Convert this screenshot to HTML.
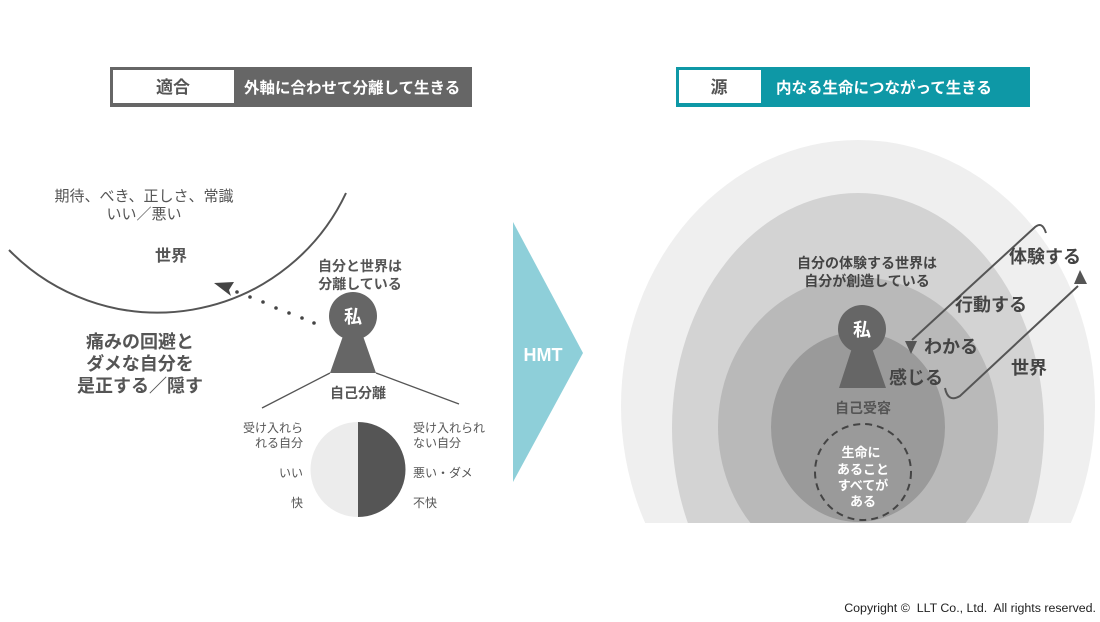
<!DOCTYPE html>
<html><head><meta charset="utf-8"><style>
html,body{margin:0;padding:0;background:#fff;width:1100px;height:622px;overflow:hidden}
svg{display:block;overflow:hidden}
text{font-family:"Liberation Sans","Noto Sans CJK JP",sans-serif}
</style></head><body>
<svg width="1100" height="622" viewBox="0 0 1100 622" xmlns="http://www.w3.org/2000/svg">
<defs><clipPath id="cl"><rect x="600" y="100" width="500" height="423"/></clipPath></defs>
<!-- left header -->
<rect x="110" y="67" width="362" height="40" fill="#666"/>
<rect x="113" y="70" width="121" height="33" fill="#fff"/>
<text x="173" y="93" font-size="17" font-weight="bold" fill="#555" text-anchor="middle">適合</text>
<text x="244" y="93" font-size="15.5" font-weight="bold" fill="#fff">外軸に合わせて分離して生きる</text>
<!-- right header -->
<rect x="676" y="67" width="354" height="40" fill="#0e98a6"/>
<rect x="679" y="70" width="82" height="33" fill="#fff"/>
<text x="719" y="93" font-size="17" font-weight="bold" fill="#555" text-anchor="middle">源</text>
<text x="776" y="93" font-size="15.5" font-weight="bold" fill="#fff">内なる生命につながって生きる</text>
<!-- left world arc -->
<path d="M9,250 A208 208 0 0 0 346 193" fill="none" stroke="#555" stroke-width="2"/>
<text x="144" y="201" font-size="15" fill="#555" text-anchor="middle">期待、べき、正しさ、常識</text>
<text x="144" y="219" font-size="15" fill="#555" text-anchor="middle">いい／悪い</text>
<text x="171" y="261" font-size="16" font-weight="bold" fill="#555" text-anchor="middle">世界</text>
<text x="140" y="348" font-size="18" font-weight="bold" fill="#555" text-anchor="middle">痛みの回避と</text>
<text x="140" y="370" font-size="18" font-weight="bold" fill="#555" text-anchor="middle">ダメな自分を</text>
<text x="140" y="392" font-size="18" font-weight="bold" fill="#555" text-anchor="middle">是正する／隠す</text>
<!-- dotted arrow -->
<g fill="#444"><circle cx="314" cy="323" r="1.8"/><circle cx="302" cy="318" r="1.8"/><circle cx="289" cy="313" r="1.8"/><circle cx="276" cy="308" r="1.8"/><circle cx="263" cy="302" r="1.8"/><circle cx="250" cy="297" r="1.8"/><circle cx="237" cy="292" r="1.8"/></g>
<path d="M214,283 L234,282 L229,290 L231,296 Z" fill="#444"/>
<text x="360" y="271" font-size="14" font-weight="bold" fill="#555" text-anchor="middle">自分と世界は</text>
<text x="360" y="289" font-size="14" font-weight="bold" fill="#555" text-anchor="middle">分離している</text>
<!-- left keyhole -->
<circle cx="353" cy="316" r="24" fill="#666"/>
<path d="M343,336 L363,336 L376,373 L330,373 Z" fill="#666"/>
<text x="353" y="323" font-size="18" font-weight="bold" fill="#fff" text-anchor="middle">私</text>
<path d="M330,373 L262,408 M376,373 L459,404" stroke="#555" stroke-width="1.3" fill="none"/>
<text x="358" y="398" font-size="14" font-weight="bold" fill="#555" text-anchor="middle">自己分離</text>
<!-- pie -->
<path d="M358,422 A47.5 47.5 0 0 0 358 517 Z" fill="#ececec"/>
<path d="M358,422 A47.5 47.5 0 0 1 358 517 Z" fill="#555"/>
<g font-size="12" fill="#555">
<text x="303" y="432" text-anchor="end">受け入れら</text>
<text x="303" y="447" text-anchor="end">れる自分</text>
<text x="303" y="477" text-anchor="end">いい</text>
<text x="303" y="507" text-anchor="end">快</text>
<text x="413" y="432">受け入れられ</text>
<text x="413" y="447">ない自分</text>
<text x="413" y="477">悪い・ダメ</text>
<text x="413" y="507">不快</text>
</g>
<!-- HMT -->
<path d="M513,222 L583,353 L513,482 Z" fill="#8ecfd9"/>
<text x="543" y="361" font-size="18" font-weight="bold" fill="#fff" text-anchor="middle">HMT</text>
<!-- right circles -->
<g clip-path="url(#cl)">
<ellipse cx="858" cy="406" rx="237" ry="266" fill="#efefef"/>
<ellipse cx="858" cy="428" rx="186" ry="235" fill="#d3d3d3"/>
<ellipse cx="858" cy="427" rx="140" ry="150" fill="#b9b9b9"/>
<ellipse cx="858" cy="427" rx="87" ry="95" fill="#9a9a9a"/>
</g>
<text x="867" y="268" font-size="14" font-weight="bold" fill="#444" text-anchor="middle">自分の体験する世界は</text>
<text x="867" y="286" font-size="14" font-weight="bold" fill="#444" text-anchor="middle">自分が創造している</text>
<circle cx="862" cy="329" r="24" fill="#666"/>
<path d="M852,348 L872,348 L886,388 L839,388 Z" fill="#666"/>
<text x="862" y="336" font-size="18" font-weight="bold" fill="#fff" text-anchor="middle">私</text>
<text x="863" y="413" font-size="14" font-weight="bold" fill="#555" text-anchor="middle">自己受容</text>
<circle cx="863" cy="472" r="48" fill="none" stroke="#444" stroke-width="2" stroke-dasharray="7 5"/>
<g font-size="13" font-weight="bold" fill="#fff" text-anchor="middle">
<text x="861" y="457">生命に</text>
<text x="863" y="474">あること</text>
<text x="863" y="490">すべてが</text>
<text x="863" y="506">ある</text>
</g>
<path d="M1046,233 Q1042,220 1034,228 L912,340" fill="none" stroke="#555" stroke-width="2"/>
<path d="M905,341 L917,341 L911,354 Z" fill="#555"/>
<path d="M945,388 Q948,403 960,396 L1078,286" fill="none" stroke="#555" stroke-width="2"/>
<path d="M1080,270 L1087,284 L1074,284 Z" fill="#555"/>
<g font-size="18" font-weight="bold" fill="#444">
<text x="1009" y="263">体験する</text>
<text x="955" y="311">行動する</text>
<text x="924" y="353">わかる</text>
<text x="889" y="384">感じる</text>
<text x="1011" y="374">世界</text>
</g>
<text x="1096" y="612" font-size="12.4" fill="#222" text-anchor="end" xml:space="preserve">Copyright ©  LLT Co., Ltd.  All rights reserved.</text>
</svg>
</body></html>
